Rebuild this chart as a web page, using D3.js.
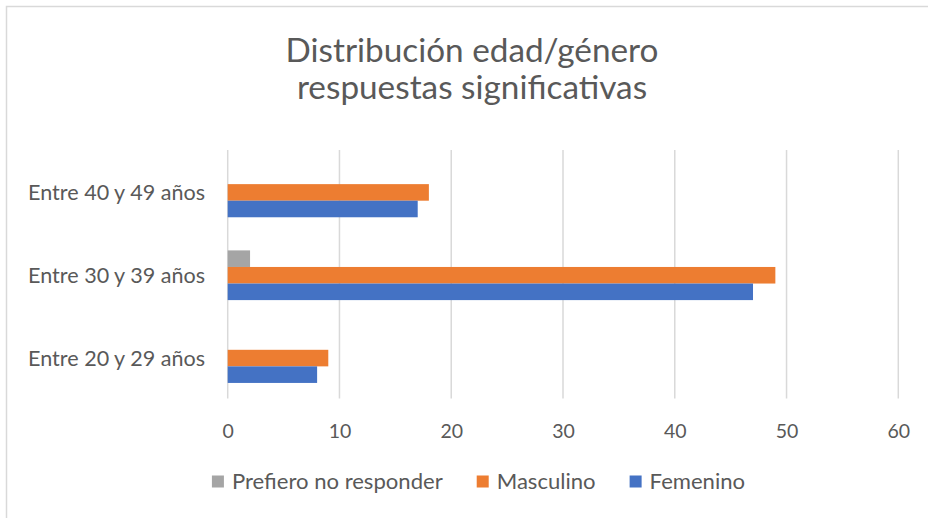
<!DOCTYPE html>
<html>
<head>
<meta charset="utf-8">
<script src="https://cdn.jsdelivr.net/npm/d3@7"></script>
<style>
  html, body { margin: 0; padding: 0; background: #fff; }
  svg { display: block; }
  text { font-family: Lato, "Open Sans", "Liberation Sans", sans-serif; fill: #595959; }
</style>
</head>
<body>
<svg id="chart" width="928" height="518"></svg>
<script>
// ---- data ----
const titleLines = ["Distribución edad/género", "respuestas significativas"];
const categories = ["Entre 40 y 49 años", "Entre 30 y 39 años", "Entre 20 y 29 años"];
const seriesNames = ["Prefiero no responder", "Masculino", "Femenino"];
const prefieroValues = [0, 2, 0];
const masculinoValues = [18, 49, 9];
const femeninoValues = [17, 47, 8];
const xTicks = [0, 10, 20, 30, 40, 50, 60];
const seriesColors = ["#a5a5a5", "#ed7d31", "#4472c4"];

const seriesValues = [prefieroValues, masculinoValues, femeninoValues];

const svg = d3.select("#chart");
const W = 928, H = 518;

// chart border (extends past the right/bottom edge as in the reference)
svg.append("rect")
  .attr("x", 6.5).attr("y", 6.5)
  .attr("width", W + 20).attr("height", H + 20)
  .attr("fill", "#fff").attr("stroke", "#d9d9d9").attr("stroke-width", 1.5);

// helper: fit font size so text reaches a target width
function fitSize(sel, target, startSize) {
  sel.style("font-size", startSize + "px");
  const w = sel.node().getComputedTextLength();
  const s = startSize * target / w;
  sel.style("font-size", s + "px");
  return s;
}

// ---- title ----
const titleCx = 472;
const t1 = svg.append("text").attr("x", titleCx).attr("y", 62)
  .attr("text-anchor", "middle").text(titleLines[0]);
const titleSize = fitSize(t1, 373, 30);
svg.append("text").attr("x", titleCx).attr("y", 99)
  .attr("text-anchor", "middle").style("font-size", titleSize + "px").text(titleLines[1]);

// ---- scales ----
const plot = { left: 227.7, right: 898.3, top: 151, bottom: 399.5 };
const x = d3.scaleLinear().domain([0, 60]).range([plot.left, plot.right]);
const y0 = d3.scaleBand().domain(categories).range([plot.top, plot.bottom]).padding(0);
const y1 = d3.scaleBand().domain(seriesNames).range([0, y0.bandwidth()])
  .paddingInner(0).paddingOuter(1);

// gridlines
svg.append("g").selectAll("line").data(xTicks).join("line")
  .attr("x1", d => x(d)).attr("x2", d => x(d))
  .attr("y1", plot.top - 1).attr("y2", plot.bottom - 1)
  .attr("stroke", "#d9d9d9").attr("stroke-width", 1.5);

// bars
const groups = svg.append("g").selectAll("g").data(categories).join("g")
  .attr("transform", c => `translate(0,${y0(c)})`);
groups.selectAll("rect")
  .data((c, ci) => seriesNames.map((s, si) => ({ s, si, v: seriesValues[si][ci] })))
  .join("rect")
  .attr("x", x(0))
  .attr("y", d => y1(d.s))
  .attr("width", d => x(d.v) - x(0))
  .attr("height", y1.bandwidth())
  .attr("fill", d => seriesColors[d.si]);

// x axis tick labels
const xAxis = d3.axisBottom(x).tickValues(xTicks).tickSize(0).tickPadding(0);
const gx = svg.append("g").attr("transform", `translate(0,${plot.bottom})`).call(xAxis);
gx.select(".domain").remove();
gx.selectAll("text")
  .attr("y", 38).attr("dy", 0)
  .style("font-size", "19.5px")
  .style("font-family", "Lato, 'Open Sans', sans-serif")
  .attr("fill", "#595959");

// category labels
const yAxis = d3.axisLeft(y0).tickSize(0).tickPadding(0);
const gy = svg.append("g").attr("transform", `translate(205,0)`).call(yAxis);
gy.select(".domain").remove();
const catTexts = gy.selectAll("text")
  .style("font-family", "Lato, 'Open Sans', sans-serif")
  .attr("fill", "#595959").attr("x", 0);
const catSize = fitSize(d3.select(catTexts.nodes()[0]), 177, 20);
catTexts.style("font-size", catSize + "px")
  .attr("dy", 0)
  .attr("y", catSize * 0.36);

// ---- legend ----
const legendSquare = 12, legendGap = 8, legendSpacing = 34;
const lg = svg.append("g");
const items = lg.selectAll("g").data(seriesNames).join("g");
items.append("rect")
  .attr("width", legendSquare).attr("height", legendSquare)
  .attr("y", -legendSquare / 2)
  .attr("fill", (d, i) => seriesColors[i]);
const ltexts = items.append("text")
  .attr("x", legendSquare + legendGap)
  .text(d => d);
const legSize = fitSize(d3.select(ltexts.nodes()[0]), 211, 20);
ltexts.style("font-size", legSize + "px").attr("y", legSize * 0.36);
let cx = 0;
const offsets = [];
ltexts.each(function () {
  offsets.push(cx);
  cx += legendSquare + legendGap + this.getComputedTextLength() + legendSpacing;
});
const legendWidth = cx - legendSpacing;
items.attr("transform", (d, i) => `translate(${offsets[i]},0)`);
lg.attr("transform", `translate(${478.5 - legendWidth / 2},481.5)`);
</script>
</body>
</html>
